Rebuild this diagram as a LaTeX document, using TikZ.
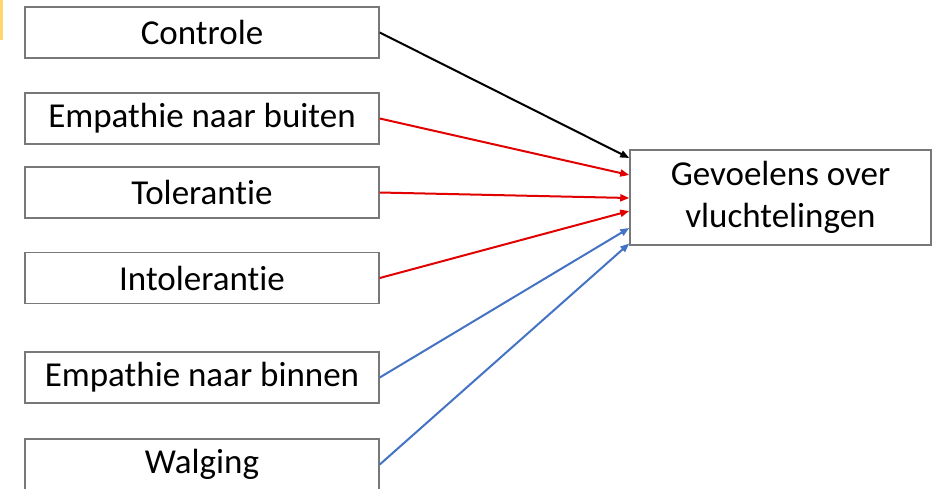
\documentclass[tikz,border=0pt]{standalone}
\usepackage{fontspec}
\setmainfont{Carlito}[Ligatures=NoCommon]
\usetikzlibrary{arrows.meta}

\definecolor{boxgray}{RGB}{120,120,120}
\definecolor{pathred}{RGB}{225,0,0}
\definecolor{pathblue}{RGB}{68,114,196}
\definecolor{tabyellow}{RGB}{255,214,110}

\tikzset{
  factor/.style={draw=boxgray, line width=1.5pt, fill=white, inner sep=0pt,
    minimum width=354pt, minimum height=51pt, font=\fontsize{35}{42}\selectfont},
  outcome/.style={factor, minimum width=301pt, minimum height=95pt, align=center},
  effect/.style={line width=2pt, -{Triangle[length=9pt,width=7pt]}}
}

\begin{document}
\begin{tikzpicture}[x=1pt, y=-1pt]
      \useasboundingbox (0, 0) rectangle (935, 488);
      \fill[tabyellow] (0, 0) rectangle (3, 40);

      \node[factor] (controle) at (202, 32.5) {Controle};
      \node[factor] (buiten) at (202, 118.5) {Empathie naar buiten};
      \node[factor] (tolerantie) at (202, 192.5) {Tolerantie};
      \node[factor] (intolerantie) at (202, 278) {Intolerantie};
      \node[factor] (binnen) at (202, 377.5) {Empathie naar binnen};
      \node[factor] (walging) at (202, 464.5) {Walging};

      \node[outcome] (gevoelens) at (780.5, 197.5) {Gevoelens over\\vluchtelingen};

      \draw[effect, black] (controle.east) -- ([yshift=39.5pt]gevoelens.west);
      \draw[effect, pathred] (buiten.east) -- ([yshift=22.5pt]gevoelens.west);
      \draw[effect, pathred] (tolerantie.east) -- ([yshift=-0.5pt]gevoelens.west);
      \draw[effect, pathred] (intolerantie.east) -- ([yshift=-13.5pt]gevoelens.west);
      \draw[effect, pathblue] (binnen.east) -- ([yshift=-30.5pt]gevoelens.west);
      \draw[effect, pathblue] (walging.east) -- ([yshift=-46pt]gevoelens.west);
    \end{tikzpicture}
\end{document}
